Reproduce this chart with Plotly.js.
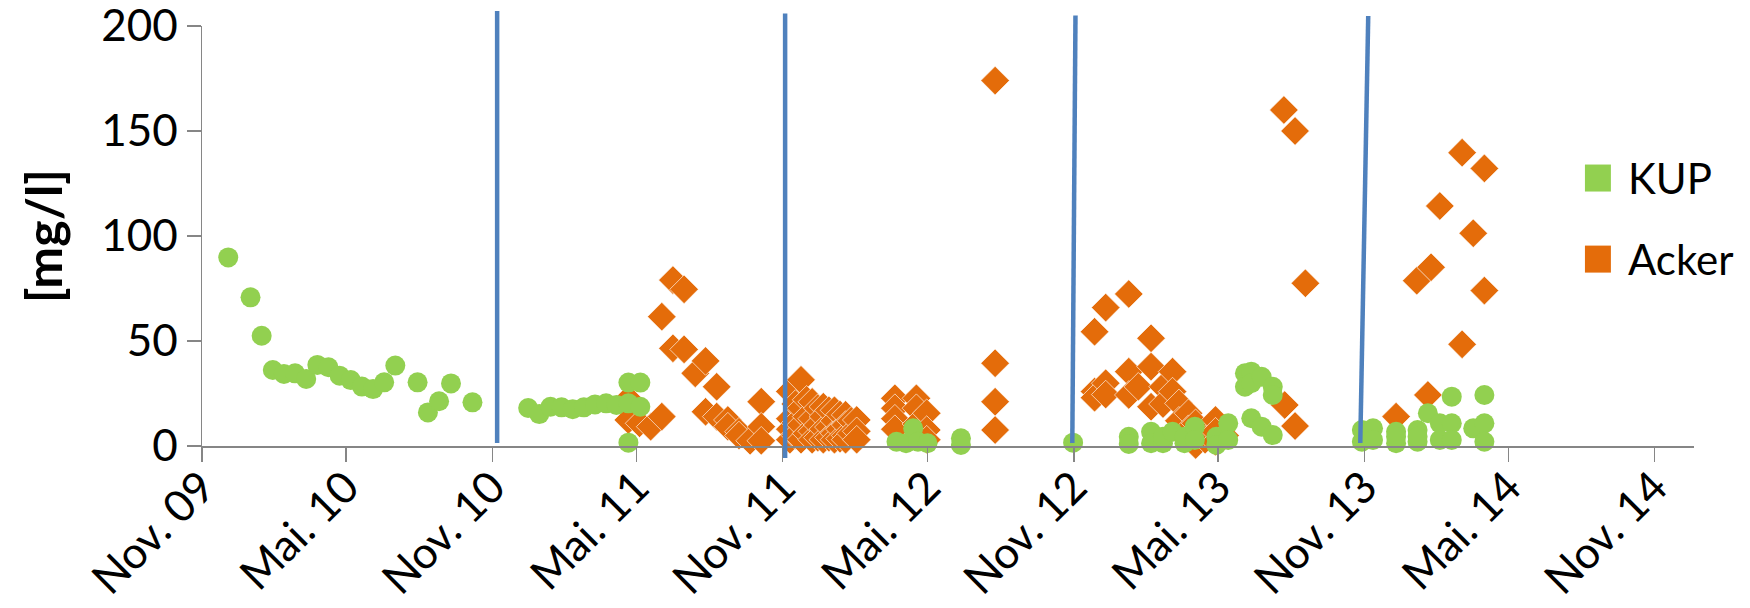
<!DOCTYPE html>
<html>
<head>
<meta charset="utf-8">
<script src="https://cdn.plot.ly/plotly-3.0.1.min.js"></script>
<style>
html,body{margin:0;padding:0;background:#fff;}
#chart{width:1750px;height:608px;}
</style>
</head>
<body>
<div id="chart"></div>
<script>
// ---------- data ----------
const kupDates = [
  '2009-12-04','2010-01-01','2010-01-15','2010-01-29','2010-02-12','2010-02-26','2010-03-12','2010-03-26',
  '2010-04-09','2010-04-23','2010-05-07','2010-05-21','2010-06-04','2010-06-18','2010-07-02','2010-07-30',
  '2010-08-12','2010-08-26','2010-09-10','2010-10-07',
  '2010-12-16','2010-12-30','2011-01-13','2011-01-27','2011-02-10','2011-02-24','2011-03-10','2011-03-24',
  '2011-04-06','2011-04-21','2011-04-21','2011-04-21','2011-05-06','2011-05-06',
  '2012-03-23','2012-04-04','2012-04-13','2012-04-19','2012-05-01','2012-06-12','2012-06-12',
  '2012-10-31',
  '2013-01-09','2013-01-09','2013-02-06','2013-02-06','2013-02-21','2013-02-21','2013-03-05',
  '2013-03-20','2013-03-20','2013-04-02','2013-04-02','2013-04-29','2013-04-29','2013-05-14','2013-05-14',
  '2013-06-04','2013-06-04','2013-06-12','2013-06-12','2013-06-12','2013-06-25','2013-06-25',
  '2013-07-09','2013-07-09','2013-07-09',
  '2013-10-29','2013-10-29','2013-11-12','2013-11-12','2013-12-11','2013-12-11','2013-12-11',
  '2014-01-07','2014-01-07','2014-01-07','2014-01-20','2014-02-04','2014-02-04',
  '2014-02-19','2014-02-19','2014-02-19','2014-03-18','2014-04-01','2014-04-01','2014-04-01'
];
const kupValues = [
  89.8,70.8,52.5,36.2,34.3,34.6,31.9,38.6,
  37.5,33.5,31.4,28.3,27.1,30.3,38.3,30.3,
  16.0,21.3,29.8,20.8,
  18.1,15.2,18.7,18.4,17.5,18.4,19.8,20.3,
  19.5,20.3,30.2,1.6,18.7,30.2,
  2.0,1.3,8.4,2.0,1.3,3.7,0.5,
  1.6,
  4.4,1.0,6.8,1.3,1.3,4.4,6.8,
  1.3,4.4,9.2,2.9,4.4,0.5,10.8,2.9,
  34.6,28.2,35.4,29.9,13.2,33.0,9.2,
  28.2,24.3,5.2,
  7.6,2.0,8.4,2.9,6.8,1.3,4.4,
  7.6,2.0,4.4,15.6,10.8,2.9,
  23.5,10.8,2.9,8.4,24.3,10.8,2.0
];

const ackerDates = [
  '2011-04-21','2011-04-21','2011-05-05','2011-05-19','2011-06-02','2011-06-02','2011-06-16','2011-06-16',
  '2011-06-30','2011-06-30','2011-07-14','2011-07-27','2011-07-27','2011-08-10','2011-08-10','2011-08-24',
  '2011-08-24','2011-09-07','2011-09-07','2011-09-21','2011-10-05','2011-10-05','2011-10-05',
  '2011-11-10','2011-11-10','2011-11-10','2011-11-10','2011-11-17','2011-11-17','2011-11-17',
  '2011-11-24','2011-11-24','2011-11-24','2011-11-24','2011-12-01','2011-12-01','2011-12-01',
  '2011-12-08','2011-12-08','2011-12-08','2011-12-08','2011-12-15','2011-12-15','2011-12-15',
  '2011-12-22','2011-12-22','2011-12-22','2011-12-22','2011-12-29','2011-12-29','2011-12-29',
  '2012-01-05','2012-01-05','2012-01-05','2012-01-05','2012-01-12','2012-01-12','2012-01-12',
  '2012-01-19','2012-01-19','2012-01-19','2012-01-19','2012-01-26','2012-01-26',
  '2012-02-02','2012-02-02','2012-02-02',
  '2012-03-21','2012-03-21','2012-03-21','2012-03-21','2012-04-17','2012-04-17','2012-04-17','2012-04-30','2012-04-30','2012-04-30',
  '2012-07-25','2012-07-25','2012-07-25','2012-07-25',
  '2012-11-27','2012-11-27','2012-11-27','2012-12-11','2012-12-11','2012-12-11','2013-01-09','2013-01-09','2013-01-09',
  '2013-01-21','2013-02-06','2013-02-06','2013-02-06','2013-02-21','2013-02-21','2013-03-05','2013-03-05',
  '2013-03-13','2013-03-13','2013-03-25','2013-03-25','2013-04-03','2013-04-03','2013-04-15','2013-04-15',
  '2013-04-28','2013-04-28','2013-04-28','2013-05-10',
  '2013-07-23','2013-07-24','2013-08-06','2013-08-06','2013-08-19',
  '2013-12-11','2014-01-06','2014-01-20','2014-01-24','2014-02-04','2014-03-04','2014-03-04','2014-03-18',
  '2014-04-01','2014-04-01'
];
const ackerValues = [
  22.5,12.4,10.8,9.2,14.0,61.6,79.0,46.5,
  74.6,46.0,34.6,40.5,16.3,28.2,14.0,12.4,
  9.2,6.8,5.0,2.5,21.1,9.2,2.5,
  26.0,13.0,8.0,3.0,20.0,11.0,5.0,
  31.5,18.0,10.0,3.0,22.0,14.0,6.0,
  21.0,13.0,7.0,3.0,18.0,10.0,4.0,
  18.7,14.0,8.0,3.0,17.0,9.0,4.0,
  17.0,12.0,6.0,3.0,15.0,8.0,3.5,
  14.8,10.0,5.0,3.0,12.0,6.0,
  12.4,7.0,3.0,
  22.7,18.0,13.0,8.0,22.7,18.0,10.5,15.6,7.6,3.0,
  174.0,39.4,21.1,7.6,
  54.4,25.9,23.0,65.9,29.9,24.5,72.4,35.4,24.3,
  28.2,51.3,37.8,18.7,28.2,20.0,35.4,25.9,
  20.3,12.0,15.6,8.0,10.8,0.5,6.0,3.0,
  12.4,6.8,2.0,5.0,
  160.0,19.5,150.0,9.5,77.5,
  14.0,78.7,24.3,85.1,114.3,139.7,48.4,101.3,
  132.2,74.0
];

// season separator lines (drawn in the original, slightly slanted)
const sepTopDates    = ['2010-11-07','2011-11-04','2012-11-03','2013-11-06'];
const sepTopValues   = [207.1, 206.0, 205.0, 204.8];
const sepBottomDates = ['2010-11-07','2011-11-04','2012-10-30','2013-10-27'];
const sepBottomValues= [1.4, -5.7, 1.4, 1.4];

const tickDates  = ['2009-11-01','2010-05-01','2010-11-01','2011-05-01','2011-11-01','2012-05-01',
                    '2012-11-01','2013-05-01','2013-11-01','2014-05-01','2014-11-01'];
const tickLabels = ['Nov. 09','Mai. 10','Nov. 10','Mai. 11','Nov. 11','Mai. 12',
                    'Nov. 12','Mai. 13','Nov. 13','Mai. 14','Nov. 14'];
const yTicks = [0, 50, 100, 150, 200];
const seriesNames = ['KUP', 'Acker'];

// ---------- styling ----------
const GREEN = '#92D050', ORANGE = '#E46C0A', BLUE = '#4F81BD', AXIS = '#868686';
const FONT = 'Lato, "Open Sans", sans-serif';
const yRange = [0, 200];

const traces = [
  {
    type: 'scatter', mode: 'markers', name: seriesNames[1],
    x: ackerDates, y: ackerValues, cliponaxis: false,
    marker: {symbol: 'diamond', size: 22, color: ORANGE, line: {color: 'rgba(255,255,255,0.8)', width: 0.8}}
  },
  {
    type: 'scatter', mode: 'markers', name: seriesNames[0],
    x: kupDates, y: kupValues, cliponaxis: false,
    marker: {symbol: 'circle', size: 20, color: GREEN, line: {width: 0}}
  }
];

const frac = v => (v - yRange[0]) / (yRange[1] - yRange[0]);
const shapes = sepTopDates.map((d, i) => ({
  type: 'line', xref: 'x', yref: 'y domain',
  x0: d, y0: frac(sepTopValues[i]), x1: sepBottomDates[i], y1: frac(sepBottomValues[i]),
  line: {color: BLUE, width: 4.5}, layer: 'above'
}));

// custom legend (large square keys as in the original)
const legendColors = [GREEN, ORANGE];
const legendY = [0.638, 0.445];
const keyHalfH = 13.5 / 420, keyW = [0.9269, 0.9443];
const annotations = [];
seriesNames.forEach((n, i) => {
  shapes.push({type: 'rect', xref: 'paper', yref: 'paper',
    x0: keyW[0], x1: keyW[1], y0: legendY[i] - keyHalfH, y1: legendY[i] + keyHalfH,
    fillcolor: legendColors[i], line: {width: 0}});
  annotations.push({xref: 'paper', yref: 'paper', x: 0.9544, y: legendY[i],
    xanchor: 'left', yanchor: 'middle', showarrow: false, text: n,
    font: {family: FONT, size: 42, color: '#000'}});
});

const layout = {
  width: 1750, height: 608,
  margin: {l: 202, r: 56, t: 26, b: 162},
  paper_bgcolor: '#fff', plot_bgcolor: '#fff',
  showlegend: false,
  font: {family: FONT, color: '#000', size: 44},
  xaxis: {
    type: 'date', range: ['2009-11-01', '2014-12-20 12:00'],
    tickmode: 'array', tickvals: tickDates, ticktext: tickLabels, tickangle: -45,
    ticks: 'outside', ticklen: 14, tickwidth: 1.5, tickcolor: AXIS,
    showline: true, linecolor: AXIS, linewidth: 1.5,
    showgrid: false, zeroline: false, automargin: false,
    ticklabelstandoff: -18, ticklabeloverflow: 'allow',
    tickfont: {family: FONT, size: 44, color: '#000'}
  },
  yaxis: {
    range: yRange, tickmode: 'array', tickvals: yTicks,
    ticks: 'outside', ticklen: 14, tickwidth: 1.5, tickcolor: AXIS,
    showline: true, linecolor: AXIS, linewidth: 1.5,
    showgrid: false, zeroline: false, automargin: false,
    ticklabeloverflow: 'allow',
    tickfont: {family: FONT, size: 44, color: '#000'},
    title: {text: '<b>[mg/l]</b>', standoff: 22, font: {family: FONT, size: 50, color: '#000'}}
  },
  shapes: shapes,
  annotations: annotations
};

Plotly.newPlot('chart', traces, layout, {displayModeBar: false, staticPlot: true});
</script>
</body>
</html>
